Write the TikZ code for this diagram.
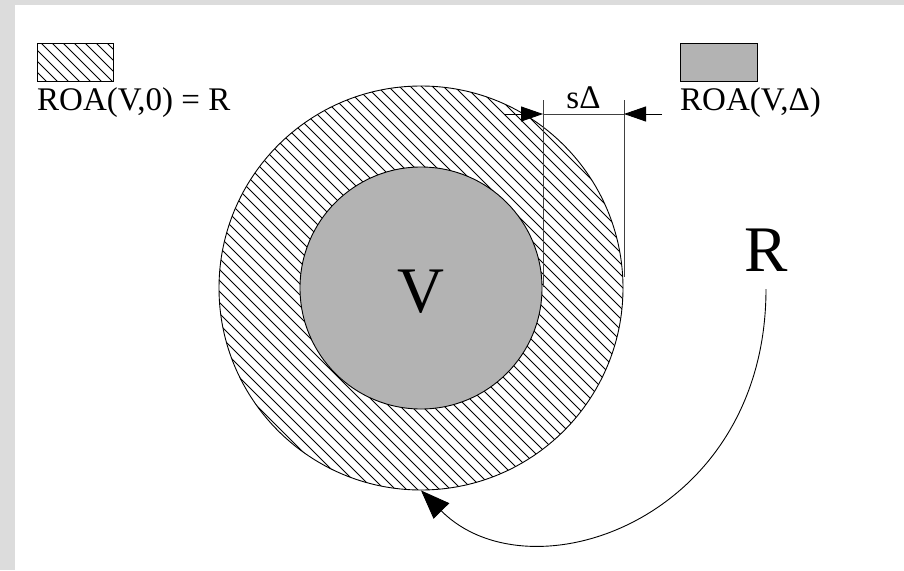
\documentclass[tikz,border=0pt]{standalone}
\usepackage{fontspec}
\setmainfont{Liberation Serif}
\usetikzlibrary{arrows.meta}
\definecolor{bggray}{HTML}{DCDCDC}
\definecolor{regiongray}{HTML}{B3B3B3}
\tikzset{
  hatchline/.style={line width=0.8pt, black},
  outline/.style={draw=black, line width=0.9pt},
  dimline/.style={draw=black!75, line width=0.9pt},
  dimarrow/.style={-{Triangle[length=22pt,width=15pt]}, draw=black, line width=0.9pt},
  bigarrow/.style={-{Triangle[length=29pt,width=22pt]}, draw=black, line width=0.9pt},
  legendtext/.style={font=\fontsize{33}{37}\selectfont, inner sep=0pt},
  bigtext/.style={font=\fontsize{65}{70}\selectfont, inner sep=0pt}
}
\begin{document}
\begin{tikzpicture}[x=1pt, y=-1pt]
  % background and frame
  \fill[bggray] (0,0) rectangle (904,570);
  \fill[white] (15,5) rectangle (904,570);
  \useasboundingbox (0,0) rectangle (904,570);

  % hatched outer region
  \begin{scope}
    \clip (421,288) circle (202);
    \foreach \c in {-160,-149,...,430}
      \draw[hatchline] (150,150-\c) -- (720,720-\c);
  \end{scope}
  \node[circle, outline, minimum size=404pt, inner sep=0pt] (outer) at (421,288) {};
  \node[circle, outline, fill=regiongray, minimum size=242pt, inner sep=0pt] (inner) at (421,288) {};
  \node[bigtext, anchor=base] (V) at (421,312) {V};

  % legend: hatched
  \begin{scope}
    \clip (37,43) rectangle (113,81);
    \foreach \c in {-90,-79,...,80}
      \draw[hatchline] (20,20-\c) -- (140,140-\c);
  \end{scope}
  \draw[outline] (37,43) rectangle (113,81);
  \node[legendtext, anchor=base west] (leg1) at (37,110) {ROA(V,0) = R};

  % legend: gray
  \draw[outline, fill=regiongray] (680,43) rectangle (757,81);
  \node[legendtext, anchor=base west] (leg2) at (680,110) {ROA(V,Δ)};

  % dimension s Delta
  \coordinate (dl1) at (543,100);
  \coordinate (dl2) at (543,287);
  \coordinate (dr1) at (624,100);
  \coordinate (dr2) at (624,277);
  \coordinate (al) at (505,114);
  \coordinate (ar) at (662,114);
  \coordinate (tl) at (543,114);
  \coordinate (tr) at (624,114);
  \draw[dimline] (dl1) -- (dl2);
  \draw[dimline] (dr1) -- (dr2);
  \draw[dimline] (tl) -- (tr);
  \draw[dimarrow] (al) -- (tl);
  \draw[dimarrow] (ar) -- (tr);
  \node[legendtext, anchor=base] (sd) at (583.5,108) {sΔ};

  % R label and arrow
  \node[bigtext, anchor=base] (R) at (766,271) {R};
  \coordinate (rstart) at (766,289);
  \draw[bigarrow] (rstart) .. controls (766,520) and (530,600) .. (outer.south);
\end{tikzpicture}
\end{document}
